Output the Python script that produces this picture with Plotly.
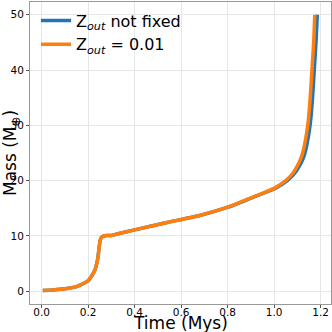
import plotly.graph_objects as go

# Orange run: Z_out = 0.01
t_fixed = [0.005, 0.05, 0.10, 0.15, 0.18, 0.20, 0.216, 0.23, 0.237, 0.243, 0.247, 0.251,
           0.255, 0.262, 0.28, 0.30, 0.32, 0.40, 0.535, 0.68, 0.80, 0.89, 0.95, 1.0,
           1.05, 1.08, 1.098, 1.115, 1.126, 1.145, 1.155, 1.163, 1.171, 1.175]
m_fixed = [0.15, 0.25, 0.45, 0.85, 1.4, 1.9, 2.8, 3.9, 5.0, 6.3, 7.8, 9.0,
           9.6, 9.9, 10.1, 10.1, 10.3, 11.1, 12.4, 13.7, 15.2, 16.7, 17.7, 18.6,
           20.0, 21.3, 22.5, 24.0, 25.5, 30.0, 34.6, 40.0, 45.4, 50.0]

# Blue run: Z_out not fixed
t_free = [0.005, 0.05, 0.10, 0.15, 0.18, 0.20, 0.216, 0.23, 0.237, 0.243, 0.247, 0.251,
          0.255, 0.262, 0.28, 0.30, 0.32, 0.40, 0.535, 0.68, 0.802, 0.893, 0.953, 1.005,
          1.057, 1.088, 1.107, 1.125, 1.136, 1.155, 1.165, 1.173, 1.181, 1.186]
m_free = m_fixed

fig = go.Figure()
fig.add_trace(go.Scatter(x=t_free, y=m_free, mode='lines', name='Z<sub><i>out</i></sub> not fixed',
                         line=dict(color='#1f77b4', width=3.5, shape='spline', smoothing=0.5)))
fig.add_trace(go.Scatter(x=t_fixed, y=m_fixed, mode='lines', name='Z<sub><i>out</i></sub> = 0.01',
                         line=dict(color='#ff7f0e', width=3.5, shape='spline', smoothing=0.5)))

axis_style = dict(showgrid=True, gridcolor='#e6e6e6', gridwidth=1, zeroline=False,
                  showline=True, linecolor='#999999', linewidth=1, mirror=True,
                  ticks='outside', ticklen=3, tickcolor='#555555', automargin=False,
                  tickfont=dict(family='DejaVu Sans', size=10.5, color='black'))

fig.update_layout(
    width=332, height=332,
    margin=dict(l=30, r=1, t=2, b=28),
    plot_bgcolor='white', paper_bgcolor='white',
    font=dict(family='DejaVu Sans', color='black'),
    showlegend=True,
    legend=dict(x=0.02, y=0.995, xanchor='left', yanchor='top', bgcolor='rgba(0,0,0,0)',
                font=dict(size=16), tracegroupgap=0),
    xaxis=dict(range=[-0.05, 1.245], dtick=0.2, tick0=0, tickformat='.1f',
               ticklabelstandoff=-5, **axis_style),
    yaxis=dict(range=[-2.3, 52.3], dtick=10, tick0=0, **axis_style),
    annotations=[
        dict(text='Time (Mys)', xref='paper', yref='paper', x=0.5, y=0,
             yshift=-19, xanchor='center', yanchor='middle', showarrow=False,
             font=dict(size=17)),
        dict(text='Mass (M<sub>⊕</sub>)', xref='paper', yref='paper', x=0, y=0.5,
             xshift=-19, xanchor='center', yanchor='middle', showarrow=False,
             textangle=-90, font=dict(size=17)),
    ],
)

fig.write_html("out.html", config={'displayModeBar': False},
               post_script="document.body.style.margin='0';document.body.style.overflow='hidden';")
